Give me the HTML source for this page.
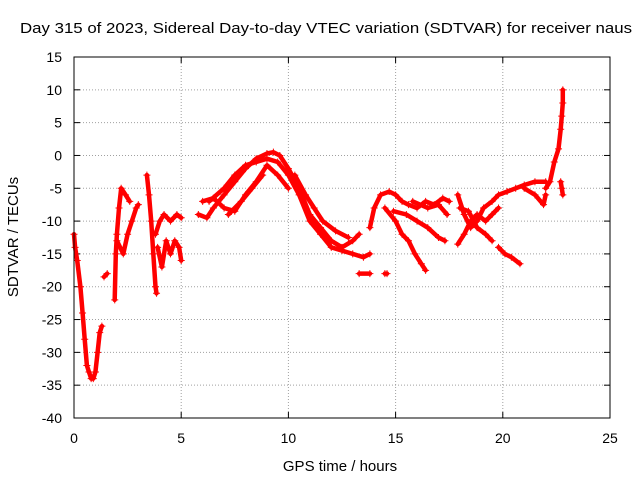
<!DOCTYPE html>
<html><head><meta charset="utf-8"><style>
body{margin:0;background:#fff}
svg{display:block;font-family:"Liberation Sans",sans-serif}
</style></head><body>
<svg id="chart" width="640" height="480" viewBox="0 0 640 480">
<rect x="0" y="0" width="640" height="480" fill="#fff"/>
<text x="20" y="33" font-size="15" textLength="612" lengthAdjust="spacingAndGlyphs">Day 315 of 2023, Sidereal Day-to-day VTEC variation (SDTVAR) for receiver naus</text>
<text x="340" y="471" font-size="15" text-anchor="middle">GPS time / hours</text>
<text transform="translate(18,237) rotate(-90)" font-size="15" text-anchor="middle">SDTVAR / TECUs</text>
<g id="grid"></g>
<g id="ticks"></g>
<g id="marks"></g>
<rect x="74" y="57" width="536" height="361" fill="none" stroke="#000" stroke-width="1"/>
</svg>
<script>
const xTicks=[0,5,10,15,20,25];
const yTicks=[15,10,5,0,-5,-10,-15,-20,-25,-30,-35,-40];
const track1=[[0,-12],[0.05,-14],[0.15,-16],[0.3,-20],[0.4,-24],[0.5,-28],[0.6,-32],[0.7,-33],[0.8,-34],[0.9,-34],[1.0,-33],[1.1,-30],[1.2,-27],[1.3,-26]];
const track2=[[1.4,-18.5],[1.55,-18]];
const track3=[[1.9,-22],[1.95,-15],[2.0,-12],[2.1,-8],[2.2,-5],[2.4,-6],[2.6,-7]];
const track4=[[2.0,-13],[2.3,-15],[2.5,-12],[2.7,-10],[2.9,-8],[3.0,-7.5]];
const track5=[[3.4,-3],[3.5,-6],[3.6,-10],[3.7,-15],[3.8,-20],[3.85,-21]];
const track6=[[3.8,-12],[4.0,-10],[4.2,-9],[4.5,-10],[4.8,-9],[5.0,-9.5]];
const track7=[[3.9,-14],[4.1,-17],[4.3,-13],[4.5,-15],[4.7,-13],[4.9,-14],[5.0,-16]];
const track8=[[5.8,-9],[6.2,-9.5],[6.5,-8],[7,-6],[7.5,-4],[8,-2],[8.5,-0.5],[9,0.3],[9.3,0.5],[9.6,0],[10,-2],[10.5,-5],[11,-9],[11.5,-11],[12,-13],[12.5,-14],[13,-13],[13.3,-12]];
const track9=[[6.3,-7],[7,-5],[7.5,-3],[8,-1.5],[8.5,-1],[9,-0.5],[9.5,-1],[10,-3],[10.5,-6],[11,-10],[11.5,-12],[12,-14],[12.5,-14.5],[13,-15],[13.5,-15.5],[13.8,-15]];
const track10=[[6.0,-7],[6.5,-6.5],[7,-8],[7.5,-8.5],[8,-6],[8.5,-4],[9,-1.5],[9.5,-3],[10,-5]];
const track11=[[7.2,-9],[7.8,-7],[8.3,-5],[8.8,-3]];
const track12=[[10.3,-3],[10.8,-6],[11.2,-8],[11.6,-10],[12.2,-11.5],[12.8,-12.5]];
const track13=[[13.3,-18],[13.8,-18]];
const track14=[[13.8,-11],[14.0,-8],[14.3,-6],[14.7,-5.5],[15,-6],[15.3,-7],[15.6,-7.5],[16,-8],[16.4,-7],[16.8,-7.5],[17.2,-6.5],[17.5,-7]];
const track15=[[14.5,-8],[15,-10],[15.3,-12],[15.6,-13],[15.9,-15],[16.2,-16.5],[16.4,-17.5]];
const track16=[[14.9,-8.5],[15.5,-9],[16,-10],[16.5,-11],[17,-12.5],[17.3,-13]];
const track17=[[14.5,-18],[14.6,-18]];
const track18=[[15.8,-7],[16.5,-8],[17,-7.5],[17.4,-9]];
const track19=[[17.9,-6],[18.2,-9],[18.5,-11],[18.8,-10],[19.1,-8],[19.5,-7],[19.8,-6],[20.2,-5.5],[20.6,-5],[21,-4.5],[21.5,-4],[22,-4]];
const track20=[[17.9,-13.5],[18.2,-12],[18.5,-10],[18.8,-9],[19.2,-10],[19.5,-9],[19.8,-8]];
const track21=[[18,-8],[18.4,-8.5],[18.8,-11],[19.2,-12],[19.5,-13]];
const track22=[[19.8,-14],[20.1,-15],[20.4,-15.5],[20.8,-16.5]];
const track23=[[21,-5],[21.5,-6],[21.9,-7.5],[22,-6]];
const track24=[[22,-5],[22.2,-4],[22.4,-1],[22.6,1],[22.7,4],[22.75,6],[22.8,8],[22.8,10]];
const track25=[[22.7,-4],[22.75,-5],[22.8,-6]];
const tracks=[track1,track2,track3,track4,track5,track6,track7,track8,track9,track10,track11,track12,track13,track14,track15,track16,track17,track18,track19,track20,track21,track22,track23,track24,track25];

const NS='http://www.w3.org/2000/svg';
const X=v=>74+v*(536/25);
const Y=v=>57+(15-v)*(361/55);
const grid=document.getElementById('grid'),ticks=document.getElementById('ticks'),marks=document.getElementById('marks');
function mk(t,a,p){const e=document.createElementNS(NS,t);for(const k in a)e.setAttribute(k,a[k]);p.appendChild(e);return e;}
xTicks.forEach(v=>{
  const l=mk('line',{x1:X(v),x2:X(v),y1:57,y2:418,stroke:'#a0a0a0','stroke-dasharray':'1,2'},grid);
  
  
  const t=mk('text',{x:X(v),y:443,'font-size':14,'text-anchor':'middle'},ticks);
  t.textContent=v;
  
  
  mk('line',{x1:X(v),x2:X(v),y1:418,y2:412,stroke:'#000'},ticks);
  mk('line',{x1:X(v),x2:X(v),y1:57,y2:63,stroke:'#000'},ticks);
});
yTicks.forEach(v=>{
  const l=mk('line',{x1:74,x2:610,y1:Y(v),y2:Y(v),stroke:'#a0a0a0','stroke-dasharray':'1,2'},grid);
  
  
  const t=mk('text',{x:62,y:Y(v)+5,'font-size':14,'text-anchor':'end'},ticks);
  t.textContent=v;
  
  
  mk('line',{x1:74,x2:80,y1:Y(v),y2:Y(v),stroke:'#000'},ticks);
  mk('line',{x1:610,x2:604,y1:Y(v),y2:Y(v),stroke:'#000'},ticks);
});
tracks.forEach(tr=>{
  const d=tr.map((p,i)=>(i?'L':'M')+X(p[0]).toFixed(1)+','+Y(p[1]).toFixed(1)).join('');
  const path=mk('path',{d:d,fill:'none',stroke:'#f00','stroke-width':4.5,'stroke-linejoin':'round','stroke-linecap':'round'},marks);
  
  
  tr.forEach(p=>{
    const x=X(p[0]),y=Y(p[1]);
    const m=mk('path',{d:`M${x-3.5},${y}h7M${x},${y-3.5}v7`,stroke:'#f00','stroke-width':1},marks);
    
    
  });
});
</script>
</body></html>
